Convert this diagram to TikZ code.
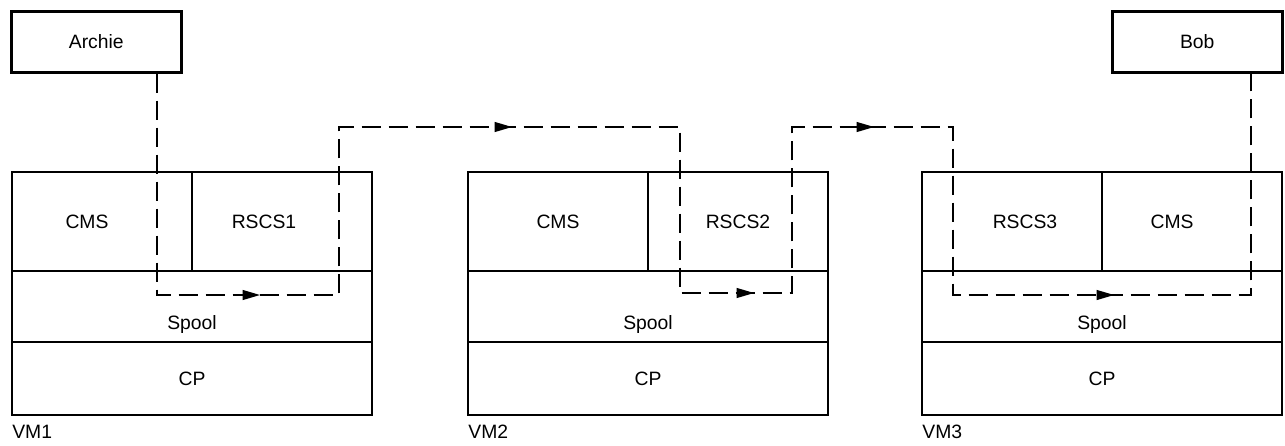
\documentclass[tikz,border=0pt]{standalone}
\usepackage{fontspec}
\setmainfont{Liberation Sans}
\usetikzlibrary{positioning}
\usetikzlibrary{arrows.meta}
\usetikzlibrary{decorations.markings}
\tikzset{%
    part/.style={draw,line width=0.5mm,inner sep=0pt,outer sep=0pt,anchor=north west,
        minimum width=36mm,minimum height=19.8mm},
    layer/.style={part,minimum width=72mm,minimum height=14.2mm},
    usr/.style={draw,line width=0.5mm,inner sep=0pt,anchor=north west,
        minimum width=34mm,minimum height=12.2mm}
}

\begin{document}
\begin{tikzpicture}[
                x=0.2mm,y=-0.2mm,
                font=\fontsize{11pt}{13pt}\selectfont,
                flow/.style={line width=0.55mm,dash pattern=on 3.8mm off 1.6mm,
                    postaction={decorate},
                    decoration={markings,
                        mark=at position 65mm with {\arrow{Triangle[length=3.6mm,width=1.9mm]}},
                        mark=at position 149mm with {\arrow{Triangle[length=3.6mm,width=1.9mm]}},
                        mark=at position 230.6mm with {\arrow{Triangle[length=3.6mm,width=1.9mm]}},
                        mark=at position 287.8mm with {\arrow{Triangle[length=3.6mm,width=1.9mm]}},
                        mark=at position 369.4mm with {\arrow{Triangle[length=3.6mm,width=1.9mm]}}}}
            ]
            \useasboundingbox (0,0) rectangle (1285,445);

            % users
            \node[usr] (archie) at (10,10) {Archie};
            \node[usr] (bob) at (1111,10) {Bob};

            % VM1
            \node[part,label={[xshift=-3mm]center:CMS}] (cms1) at (12,172) {};
            \node[part,right=0pt of cms1,label={[xshift=-3.6mm]center:RSCS1}] (rscs1) {};
            \node[layer,below=0pt of cms1.south east,label={[yshift=-3.6mm]center:Spool}] (spool1) {};
            \node[layer,below=0pt of spool1,minimum height=14.6mm] (cp1) {CP};
            \node[anchor=north west,inner sep=0pt] (vm1) at ([yshift=-2mm]cp1.south west) {VM1};

            % VM2
            \node[part] (cms2) at (468,172) {CMS};
            \node[part,right=0pt of cms2] (rscs2) {RSCS2};
            \node[layer,below=0pt of cms2.south east,label={[yshift=-3.6mm]center:Spool}] (spool2) {};
            \node[layer,below=0pt of spool2,minimum height=14.6mm] (cp2) {CP};
            \node[anchor=north west,inner sep=0pt] (vm2) at ([yshift=-2mm]cp2.south west) {VM2};

            % VM3
            \node[part,label={[xshift=2.6mm]center:RSCS3}] (rscs3) at (922,172) {};
            \node[part,right=0pt of rscs3,label={[xshift=-4mm]center:CMS}] (cms3) {};
            \node[layer,below=0pt of rscs3.south east,label={[yshift=-3.6mm]center:Spool}] (spool3) {};
            \node[layer,below=0pt of spool3,minimum height=14.6mm] (cp3) {CP};
            \node[anchor=north west,inner sep=0pt] (vm3) at ([yshift=-2mm]cp3.south west) {VM3};

            % route of the file
            \coordinate (d1) at (157,295);
            \coordinate (s1) at (339,295);
            \coordinate (h1) at (680,127);
            \coordinate (s2) at (792,293);
            \coordinate (h2) at (953,127);
            \coordinate (s3) at (1251,295);

            \draw[flow] (archie.south -| d1) -- (d1) -- (s1) |- (h1) |- (s2) |- (h2) |- (s3) -- (bob.south -| s3);
        \end{tikzpicture}
\end{document}
